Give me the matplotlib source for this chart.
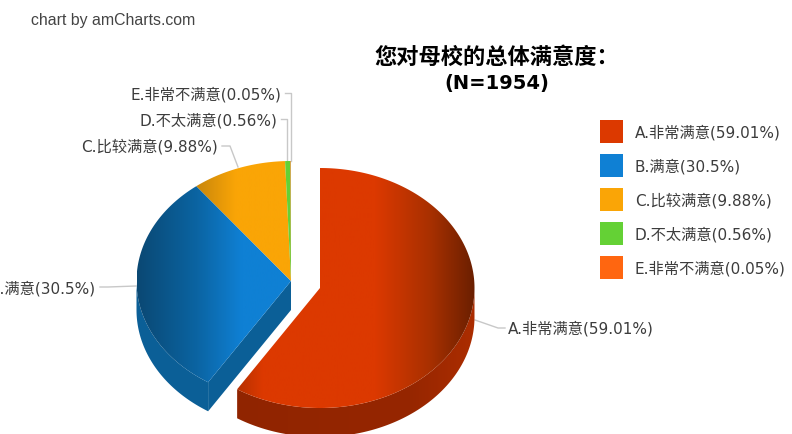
import numpy as np
import matplotlib
matplotlib.use('Agg')
import matplotlib.pyplot as plt
from matplotlib.colors import to_rgb
from matplotlib.patches import Polygon, Rectangle

plt.rcParams['font.family'] = ['DejaVu Sans', 'Noto Sans CJK SC']

categories = ['A.非常满意', 'B.满意', 'C.比较满意', 'D.不太满意', 'E.非常不满意']
values = [59.01, 30.5, 9.88, 0.56, 0.05]
colors = ['#dc3900', '#0f80d4', '#faa506', '#64d135', '#ff6610']
title_lines = ['您对母校的总体满意度：', '(N=1954)']
credit = 'chart by amCharts.com'

W, H = 792, 434
RX, RY, DEPTH = 154.5, 120, 29
TEXT = '#3c3c3c'
LINE = '#c8c8c8'


def rim(cx, cy, a0, a1, n=200):
    # angle in degrees, clockwise from the top
    a = np.radians(np.linspace(a0, a1, n))
    return np.column_stack([cx + RX*np.sin(a), cy - RY*np.cos(a)])


def shade(ax, patch, x0, x1, stops):
    xs = np.linspace(x0, x1, 300)
    pos = [s[0] for s in stops]
    rgb = np.array([to_rgb(s[1]) for s in stops])
    grad = np.stack([np.interp(xs, pos, rgb[:, i]) for i in range(3)], axis=1)
    ax.add_patch(patch)
    im = ax.imshow(grad[None, :, :], extent=[x0, x1, H, 0], aspect='auto', zorder=patch.get_zorder())
    im.set_clip_path(patch)


fig = plt.figure(figsize=(W/100, H/100), dpi=100)
ax = fig.add_axes([0, 0, 1, 1])

edges = np.cumsum([0] + values) * 3.6
centers = [(320, 288), (291, 281), (291, 281), (291, 281), (291, 281)]

# red slice, pulled out
cx, cy = centers[0]
arc = rim(cx, cy, edges[0], edges[1])
side = rim(cx, cy, 90, edges[1])
shade(ax, Polygon(np.vstack([side, (side + [0, DEPTH])[::-1]]), fc='none', ec='none', zorder=2), cx - RX, cx + RX,
      [(cx - RX, '#8e2400'), (cx + 90, '#962600'), (cx + RX, '#ac2d00')])
shade(ax, Polygon(np.vstack([[(cx, cy)], arc]), fc='none', ec='none', zorder=3), cx - RX, cx + RX,
      [(cx - 84, '#b53000'), (cx - 58, colors[0]), (cx + 55, colors[0]), (cx + 110, '#a83000'), (cx + RX, '#6a1f00')])

# blue slice with its outer side and cut wall
cx, cy = centers[1]
arc = rim(cx, cy, edges[1], edges[2])
side = rim(cx, cy, edges[1], 270)
tip = side[0]
ax.add_patch(Polygon(np.vstack([side, (side + [0, DEPTH])[::-1]]), fc='#0b5f97', ec='none', zorder=2))
ax.add_patch(Polygon([(cx, cy), tip, tip + [0, DEPTH], (cx, cy + DEPTH)], fc='#0b5f97', ec='none', zorder=2))
shade(ax, Polygon(np.vstack([[(cx, cy)], arc]), fc='none', ec='none', zorder=3), cx - RX, cx,
      [(cx - RX, '#0a4873'), (cx - 95, '#0b64a2'), (cx - 50, colors[1]), (cx, colors[1])])

# orange slice
arc = rim(cx, cy, edges[2], edges[3])
shade(ax, Polygon(np.vstack([[(cx, cy)], arc]), fc='none', ec='none', zorder=3), cx - 95, cx,
      [(cx - 95, '#c8860c'), (cx - 55, colors[2]), (cx, colors[2])])

# two thin slices at the top
for i in [3, 4]:
    arc = rim(cx, cy, edges[i], edges[i + 1], 20)
    ax.add_patch(Polygon(np.vstack([[(cx, cy)], arc]), fc=colors[i], ec='none', zorder=3))

labels = [f'{c}({v}%)' for c, v in zip(categories, values)]

# leader lines
leaders = [
    [(475, 320), (498, 328), (505, 328)],
    [(136, 286), (108, 287), (100, 287)],
    [(238, 167), (230, 146), (222, 146)],
    [(287, 161), (287, 119), (281, 119)],
    [(290.5, 161), (290.5, 92.5), (285, 92.5)],
]
for pts in leaders:
    ax.plot(*zip(*pts), color=LINE, lw=1, zorder=1)

label_pos = [(508, 329, 'left'), (96, 289, 'right'), (218, 147, 'right'), (277, 121, 'right'), (281, 95, 'right')]
for (x, y, ha), s in zip(label_pos, labels):
    ax.text(x, y, s, ha=ha, va='center', fontsize=11, color=TEXT)

# legend
for i, (s, c) in enumerate(zip(labels, colors)):
    y = 120 + 34*i
    ax.add_patch(Rectangle((600, y), 23, 23, fc=c, ec='none'))
    ax.text(635, y + 13, s, va='center', fontsize=11, color=TEXT)

ax.text(497, 57, title_lines[0], ha='center', va='center', fontsize=16, fontweight='bold', color='black',
        family=['Noto Sans CJK SC', 'DejaVu Sans'])
ax.text(497, 83, title_lines[1], ha='center', va='center', fontsize=14, fontweight='bold', color='black')
ax.text(31, 20, credit, ha='left', va='center', fontsize=11.4, color='#444444', family='Liberation Sans')

ax.set_xlim(0, W)
ax.set_ylim(H, 0)
ax.axis('off')
fig.savefig('out.png', dpi=100)
